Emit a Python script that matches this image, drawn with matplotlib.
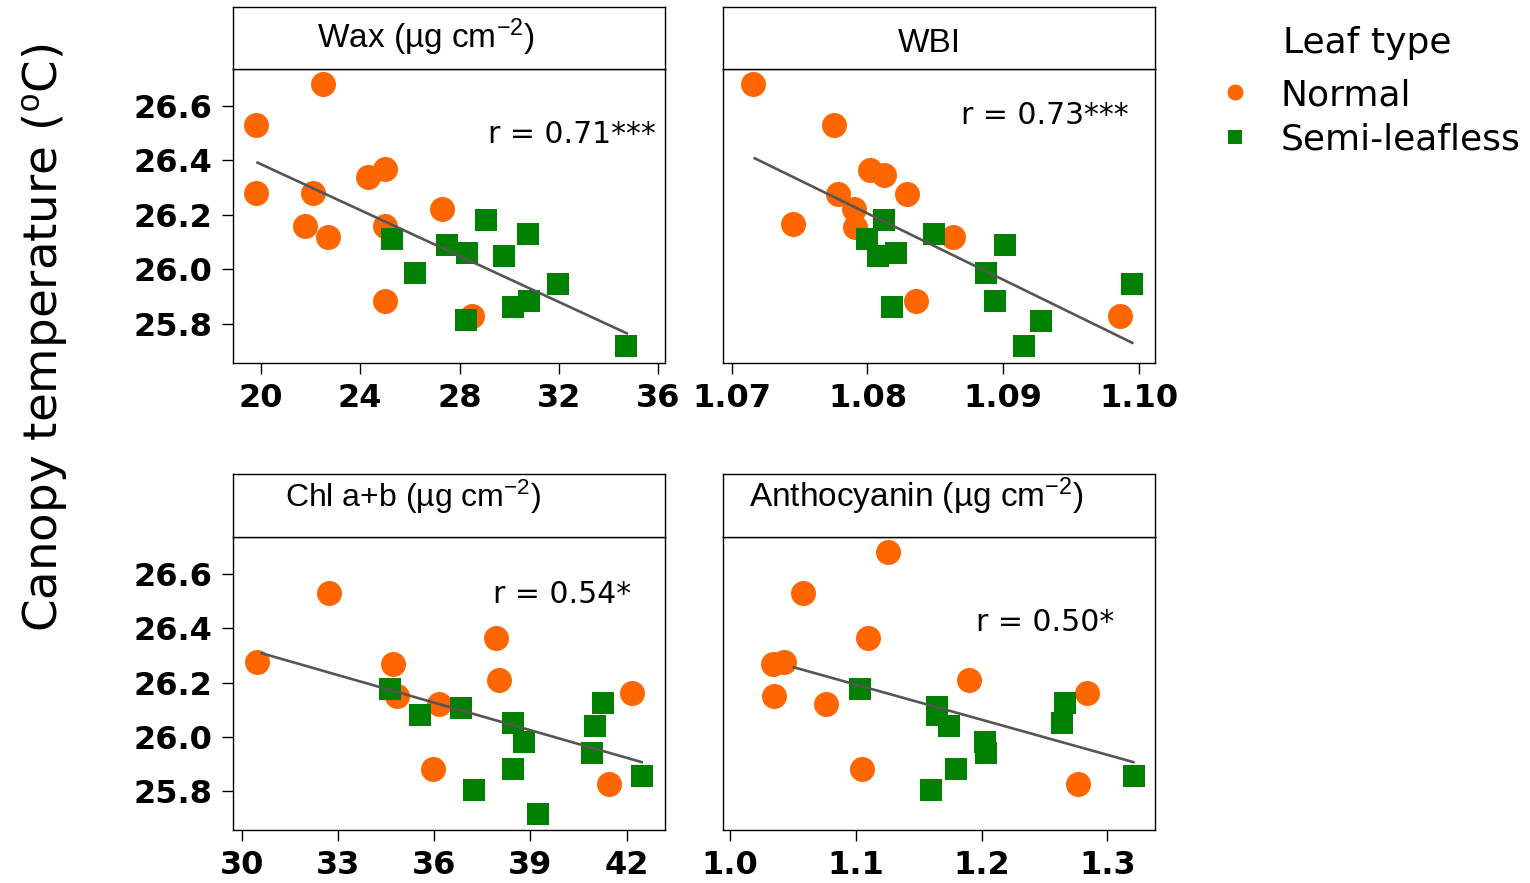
import matplotlib
matplotlib.use("Agg")
import matplotlib.pyplot as plt
from matplotlib.lines import Line2D

# DATA
wax_normal_x = [22.5, 19.8, 19.8, 22.1, 24.3, 25.0, 21.8, 22.7, 25.0, 27.3, 25.0, 28.5]
wax_normal_y = [26.68, 26.53, 26.28, 26.28, 26.34, 26.37, 26.16, 26.12, 26.16, 26.22, 25.885, 25.83]
wax_semi_x = [25.3, 29.05, 30.75, 27.5, 28.3, 29.8, 26.2, 31.95, 30.8, 30.15, 28.25, 34.7]
wax_semi_y = [26.11, 26.18, 26.13, 26.09, 26.06, 26.05, 25.985, 25.945, 25.885, 25.86, 25.815, 25.72]
wax_fit_x = [19.87, 34.73]
wax_fit_y = [26.392, 25.765]

wbi_normal_x = [1.0716, 1.0775, 1.0802, 1.0812, 1.0829, 1.0778, 1.0790, 1.0791, 1.0745, 1.0863, 1.0836, 1.0986]
wbi_normal_y = [26.68, 26.53, 26.365, 26.345, 26.275, 26.275, 26.22, 26.155, 26.165, 26.12, 25.885, 25.83]
wbi_semi_x = [1.0812, 1.0849, 1.0800, 1.0821, 1.0808, 1.0901, 1.0887, 1.0995, 1.0894, 1.0818, 1.0928, 1.0915]
wbi_semi_y = [26.18, 26.13, 26.11, 26.06, 26.05, 26.09, 25.985, 25.945, 25.885, 25.86, 25.81, 25.72]
wbi_fit_x = [1.0717, 1.0995]
wbi_fit_y = [26.408, 25.73]

chl_normal_x = [32.72, 30.47, 34.71, 37.92, 38.01, 34.83, 36.16, 42.16, 35.97, 41.46]
chl_normal_y = [26.53, 26.275, 26.27, 26.365, 26.21, 26.15, 26.12, 26.16, 25.88, 25.825]
chl_semi_x = [34.63, 35.56, 36.83, 38.45, 38.81, 41.27, 41.01, 40.91, 38.45, 37.24, 39.23, 42.47]
chl_semi_y = [26.175, 26.08, 26.105, 26.05, 25.98, 26.125, 26.04, 25.94, 25.88, 25.805, 25.715, 25.855]
chl_fit_x = [30.62, 42.47]
chl_fit_y = [26.308, 25.907]

ant_normal_x = [1.1258, 1.0578, 1.1100, 1.0344, 1.0429, 1.0350, 1.0763, 1.19, 1.2835, 1.1047, 1.2769]
ant_normal_y = [26.68, 26.53, 26.365, 26.27, 26.275, 26.15, 26.12, 26.21, 26.16, 25.88, 25.825]
ant_semi_x = [1.1033, 1.1648, 1.1648, 1.1743, 1.2663, 1.2636, 1.2027, 1.2035, 1.1797, 1.1595, 1.3211]
ant_semi_y = [26.175, 26.11, 26.08, 26.04, 26.125, 26.05, 25.98, 25.94, 25.88, 25.805, 25.855]
ant_fit_x = [1.0509, 1.3206]
ant_fit_y = [26.256, 25.907]

titles = [r"Wax (µg cm$^{-2}$)", "WBI", r"Chl a+b (µg cm$^{-2}$)", r"Anthocyanin (µg cm$^{-2}$)"]
r_labels = ["r = 0.71***", "r = 0.73***", "r = 0.54*", "r = 0.50*"]
x_ticks = [[20, 24, 28, 32, 36], [1.07, 1.08, 1.09, 1.10], [30, 33, 36, 39, 42], [1.0, 1.1, 1.2, 1.3]]
x_fmt = ["%d", "%.2f", "%d", "%.1f"]
x_lims = [(18.87, 36.27), (1.06934, 1.10117), (29.72, 43.195), (0.9942, 1.3378)]
y_ticks = [25.8, 26.0, 26.2, 26.4, 26.6]
y_lim = (25.657, 26.736)

normal_col = "#FF6600"
semi_col = "#008000"

plt.rcParams['font.family'] = ['DejaVu Sans']
plt.rcParams['mathtext.fontset'] = 'custom'
plt.rcParams['mathtext.rm'] = 'Liberation Sans'
plt.rcParams['mathtext.it'] = 'Liberation Sans:italic'
plt.rcParams['mathtext.bf'] = 'Liberation Sans:bold'

W, H = 1530, 883
fig = plt.figure(figsize=(W / 100, H / 100), dpi=100)

# panel boxes in pixels: left, right, top, bottom ; strip top
boxes = [(232.7, 665, 69, 362.7, 7), (722.7, 1155, 69, 362.7, 7),
         (232.7, 665, 537, 830, 474), (722.7, 1155, 537, 830, 474)]
panels = [(wax_normal_x, wax_normal_y, wax_semi_x, wax_semi_y, wax_fit_x, wax_fit_y),
          (wbi_normal_x, wbi_normal_y, wbi_semi_x, wbi_semi_y, wbi_fit_x, wbi_fit_y),
          (chl_normal_x, chl_normal_y, chl_semi_x, chl_semi_y, chl_fit_x, chl_fit_y),
          (ant_normal_x, ant_normal_y, ant_semi_x, ant_semi_y, ant_fit_x, ant_fit_y)]
strip_text_pos = [(0.447, 0.334), (0.478, 0.279), (0.418, 0.481), (0.447, 0.471)]
strip_size = [24, 24, 23, 24]
r_pos = [(0.785, 0.748), (0.744, 0.813), (0.763, 0.774), (0.746, 0.680)]

for i, (l, r, t, b, st) in enumerate(boxes):
    ax = fig.add_axes([l / W, 1 - b / H, (r - l) / W, (b - t) / H])
    nx, ny, sx, sy, fx, fy = panels[i]
    ax.plot(nx, ny, 'o', color=normal_col, ms=18, mew=0, zorder=2)
    ax.plot(sx, sy, 's', color=semi_col, ms=16, mew=0, zorder=3)
    ax.plot(fx, fy, '-', color="#555555", lw=1.9, zorder=4)
    ax.set_xlim(*x_lims[i])
    ax.set_ylim(*y_lim)
    ax.set_xticks(x_ticks[i])
    ax.set_xticklabels([x_fmt[i] % v for v in x_ticks[i]])
    ax.tick_params(direction='out', length=7.7, width=1, pad=7, labelsize=23, color='black')
    if i % 2 == 0:
        ax.set_yticks(y_ticks)
        ax.set_yticklabels(["%.1f" % v for v in y_ticks])
    else:
        ax.set_yticks([])
    for lab in ax.get_xticklabels() + ax.get_yticklabels():
        lab.set_fontweight('bold')
    for sp in ax.spines.values():
        sp.set_linewidth(1)
    ax.text(r_pos[i][0], r_pos[i][1], r_labels[i], transform=ax.transAxes,
            ha='center', va='baseline', fontsize=21.5)

    # strip on top
    sax = fig.add_axes([l / W, 1 - t / H, (r - l) / W, (t - st) / H])
    sax.set_xticks([])
    sax.set_yticks([])
    for sp in sax.spines.values():
        sp.set_linewidth(1)
    sax.text(strip_text_pos[i][0], strip_text_pos[i][1], titles[i], transform=sax.transAxes,
             ha='center', va='baseline', fontsize=strip_size[i], family='Liberation Sans')

fig.text(45 / W, 1 - 338 / H, r"Canopy temperature ($^{\mathrm{o}}$C)", rotation=90,
         ha='center', va='center', fontsize=33.7)

# legend
fig.text(1283 / W, 1 - 53 / H, "Leaf type", ha='left', va='baseline', fontsize=26)
handles = [Line2D([], [], ls='none', marker='o', color=normal_col, ms=11.5, mew=0),
           Line2D([], [], ls='none', marker='s', color=semi_col, ms=10, mew=0)]
fig.legend(handles, ["Normal", "Semi-leafless"], loc='upper left',
           bbox_to_anchor=(1219 / W, 1 - 78 / H), frameon=False, fontsize=26,
           handlelength=0.9, handletextpad=0.8, labelspacing=0.3,
           borderpad=0, borderaxespad=0)

fig.savefig("out.png", dpi=100)
